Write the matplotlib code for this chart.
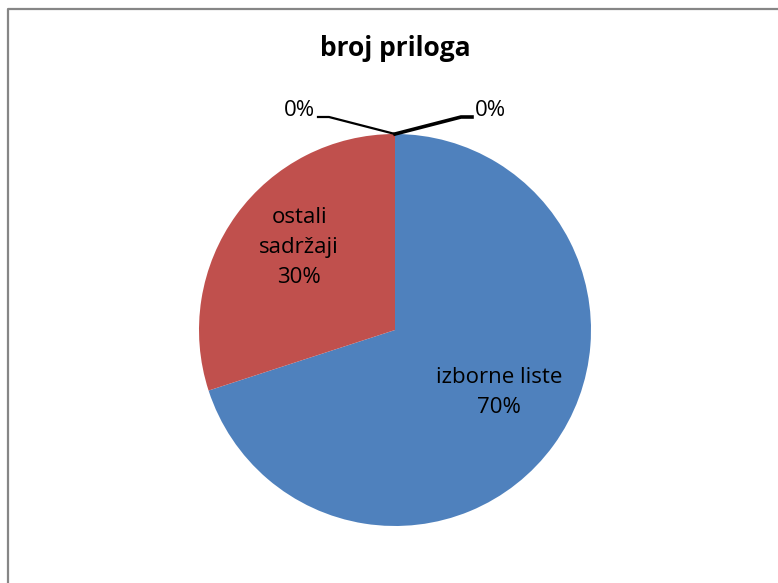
import matplotlib.pyplot as plt
import numpy as np

# chart data
categories = ['izborne liste', 'ostali sadržaji', '', '']
shares = [70, 30, 0, 0]
colors = ['#4F81BD', '#C0504D', '#9BBB59', '#8064A2']
title = 'broj priloga'

plt.rcParams['font.family'] = ['Open Sans', 'DejaVu Sans']

fig = plt.figure(figsize=(7.78, 5.83), dpi=100)
ax = fig.add_axes([0, 0, 1, 1])

# chart frame (runs past right/bottom edge like the reference)
ax.plot([8.5, 8.5, 790], [-10, 574.5, 574.5], color='#868686', lw=1.6, clip_on=False)

cx, cy, r = 395, 253, 196
wedges, _ = ax.pie(shares, colors=colors, startangle=90, counterclock=False,
                   center=(cx, cy), radius=r, frame=True,
                   wedgeprops=dict(linewidth=0))
ax.set_xlim(0, 778)
ax.set_ylim(0, 583)
ax.set_aspect('equal')
ax.axis('off')

# labels inside the big slices
wrap = {'ostali sadržaji': 'ostali\nsadržaji'}
for w, name, val in zip(wedges, categories, shares):
    if val == 0:
        continue
    mid = np.deg2rad((w.theta1 + w.theta2) / 2)
    d = 0.63 * r
    ax.text(cx + d * np.cos(mid) + 4, cy + d * np.sin(mid) + 10,
            wrap.get(name, name) + '\n%d%%' % val,
            ha='center', va='center', fontsize=16, linespacing=1.55)

# 0% slices with leader lines
zero = [w for w, v in zip(wedges, shares) if v == 0]
for w, side, lw in zip(zero, [-1, 1], [1.6, 2.6]):
    a = np.deg2rad(w.theta1)
    tx, ty = cx + r * np.cos(a), cy + r * np.sin(a)
    kx, ky = tx + side * 66, ty + 17
    ex = kx + side * 11
    ax.plot([tx, kx, ex], [ty, ky, ky], color='black', lw=lw,
            solid_joinstyle='miter')
    ax.text(ex + side * 3, ky + 7, '0%', ha='left' if side > 0 else 'right',
            va='center', fontsize=16)

ax.text(cx, 534, title, ha='center', va='center', fontsize=19, fontweight='bold')

fig.savefig('out.png', dpi=100)
